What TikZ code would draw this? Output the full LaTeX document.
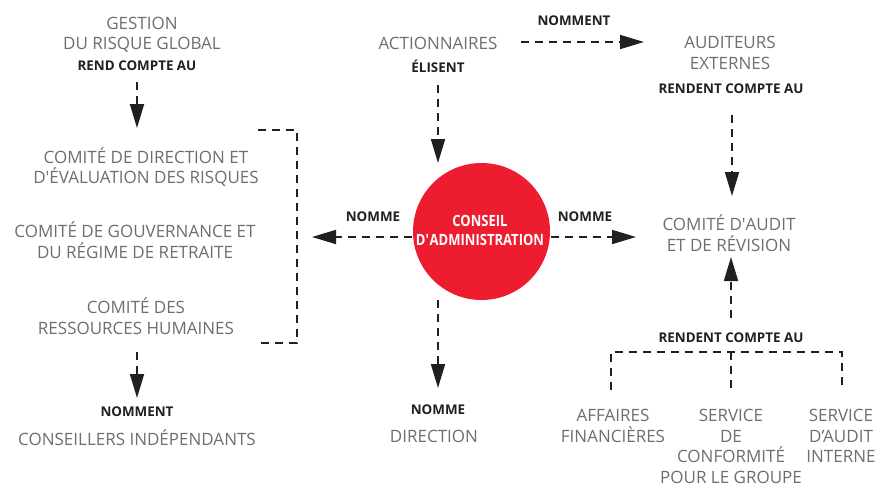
\documentclass[tikz,border=0pt]{standalone}
\usepackage{fontspec}
\setmainfont{Open Sans}
\newfontfamily\condfont[FakeStretch=0.84]{Open Sans}
\usetikzlibrary{arrows.meta}
\definecolor{govgray}{HTML}{6D6E71}
\definecolor{govred}{HTML}{ED1C2E}
\definecolor{govink}{HTML}{231F20}

\begin{document}
\begin{tikzpicture}[
  x=1pt,
  y=-1pt,
  body/.style={text=govgray,font=\fontsize{17}{20.5}\selectfont,align=center,inner sep=0pt},
  verb/.style={text=govink,font=\fontsize{13.4}{15}\selectfont\bfseries,inner sep=0pt},
  link/.style={draw=govink,line width=1.8pt,dash pattern=on 8pt off 6pt},
  flow/.style={link,-{Triangle[length=24pt,width=14pt]}},
  board/.style={circle,fill=govred,minimum size=137pt,inner sep=0pt},
  boardtext/.style={text=white,align=center,inner sep=0pt,
    font=\condfont\fontsize{15.5}{19}\selectfont\bfseries}
]
  \useasboundingbox (0,0) rectangle (881,483);

  % Board of directors in the middle.
  \node[board] (board) at (481.5,231.5) {};
  \node[boardtext] (boardname) at (480,230) {CONSEIL\\D\textquotesingle ADMINISTRATION};

  % Arrow end points around the board.
  \coordinate (boardN) at (438,163);
  \coordinate (boardW) at (412,237);
  \coordinate (boardE) at (551,237);
  \coordinate (boardS) at (438,300);
  \coordinate (leftTip) at (312,237);
  \coordinate (rightTip) at (636,237);
  \coordinate (downTip) at (438,388);

  % Shareholders and external auditors.
  \node[body] (owners) at (438,43) {ACTIONNAIRES};
  \node[verb] (elect) at (438,66) {ÉLISENT};
  \node[verb] (appointTop) at (574,21) {NOMMENT};
  \node[body] (auditors) at (730,53) {AUDITEURS\\EXTERNES};
  \node[verb] (reportTop) at (731,89) {RENDENT COMPTE AU};
  \coordinate (ownersE) at (521,42);
  \coordinate (auditorsW) at (644,42);
  \coordinate (reportTopS) at (732,115);
  \coordinate (auditTip) at (732,196);

  % Audit committee and the services reporting to it.
  \node[body] (audit) at (729,233) {COMITÉ D\textquotesingle AUDIT\\ET DE RÉVISION};
  \coordinate (auditS) at (731,257);
  \node[verb] (reportLow) at (731,338) {RENDENT COMPTE AU};
  \coordinate (reportLowN) at (731,318);
  \coordinate (hubL) at (611,352);
  \coordinate (hubM) at (731,352);
  \coordinate (hubR) at (842,352);
  \coordinate (footL) at (611,390);
  \coordinate (footM) at (731,390);
  \coordinate (footR) at (842,390);
  \node[body,anchor=north] (finance) at (613,409) {AFFAIRES\\FINANCIÈRES};
  \node[body,anchor=north] (compliance) at (731,409) {SERVICE\\DE\\CONFORMITÉ\\POUR LE GROUPE};
  \node[body,anchor=north] (internal) at (841,409) {SERVICE\\D’AUDIT\\INTERNE};

  % Risk management and the board committees.
  \node[body] (risk) at (142,35) {GESTION\\DU RISQUE GLOBAL};
  \node[verb] (reportRisk) at (137,66) {REND COMPTE AU};
  \coordinate (reportRiskS) at (137,82);
  \coordinate (execTip) at (137,128);
  \node[body] (exec) at (146,167) {COMITÉ DE DIRECTION ET\\D\textquotesingle ÉVALUATION DES RISQUES};
  \node[body] (governance) at (135,240) {COMITÉ DE GOUVERNANCE ET\\DU RÉGIME DE RETRAITE};
  \node[body] (people) at (136,316) {COMITÉ DES\\RESSOURCES HUMAINES};
  \coordinate (braceTopL) at (258,130);
  \coordinate (braceTopR) at (297,130);
  \coordinate (braceLowR) at (297,343);
  \coordinate (braceLowL) at (258,343);
  \coordinate (peopleS) at (137,352);
  \coordinate (advisorTip) at (137,398);
  \node[verb] (appointLeft) at (137,412) {NOMMENT};
  \node[body] (advisors) at (137,438) {CONSEILLERS INDÉPENDANTS};

  % Labels on the board's own arrows.
  \node[verb] (namesLeft) at (373,217) {NOMME};
  \node[verb] (namesRight) at (585,217) {NOMME};
  \node[verb] (namesDown) at (438,410) {NOMME};
  \node[body] (management) at (434,436) {DIRECTION};

  % Dashed connectors.
  \draw[flow] (elect.south |- 0,85) -- (boardN);
  \draw[flow] (ownersE) -- (auditorsW);
  \draw[flow] (reportTopS) -- (auditTip);
  \draw[flow] (boardW) -- (leftTip);
  \draw[flow] (boardE) -- (rightTip);
  \draw[flow] (boardS) -- (downTip);
  \draw[flow] (reportLowN) -- (auditS);
  \draw[flow] (reportRiskS) -- (execTip);
  \draw[flow] (peopleS) -- (advisorTip);
  \draw[link] (braceTopL) -- (braceTopR) -- (braceLowR) -- (braceLowL);
  \draw[link] (footL) -- (hubL) -- (hubR) -- (footR);
  \draw[link] (hubM) -- (footM);
\end{tikzpicture}
\end{document}
